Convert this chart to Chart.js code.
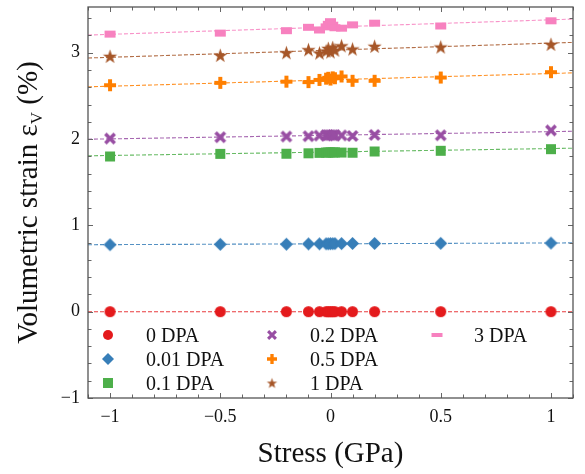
<!DOCTYPE html>
<html>
<head>
<meta charset="utf-8">
<script src="https://cdn.jsdelivr.net/npm/chart.js@4.4.1/dist/chart.umd.min.js"></script>
<style>
  html, body { margin: 0; padding: 0; background: #fff; }
  #wrap { width: 585px; height: 474px; }
</style>
</head>
<body>
<div id="wrap"><canvas id="chart" width="585" height="474"></canvas></div>
<script>
/* ---- Daten ---- */
const STRESS = [-1, -0.5, -0.2, -0.1, -0.05, -0.02, -0.01, 0, 0.01, 0.02, 0.05, 0.1, 0.2, 0.5, 1];

const LABELS = ['0 DPA', '0.01 DPA', '0.1 DPA', '0.2 DPA', '0.5 DPA', '1 DPA', '3 DPA'];
const COLORS = ['#e41a1c', '#377eb8', '#4daf4a', '#984ea3', '#ff7f00', '#a65628', '#f781bf'];

const STRAIN_0    = [0, 0, 0, 0, 0, 0, 0, 0, 0, 0, 0, 0, 0, 0, 0];
const STRAIN_001  = [0.776, 0.780, 0.782, 0.785, 0.786, 0.787, 0.787, 0.788, 0.788, 0.789, 0.789, 0.790, 0.790, 0.792, 0.795];
const STRAIN_01   = [1.798, 1.829, 1.830, 1.835, 1.840, 1.844, 1.845, 1.846, 1.845, 1.846, 1.844, 1.842, 1.856, 1.864, 1.883];
const STRAIN_02   = [2.006, 2.021, 2.029, 2.033, 2.040, 2.044, 2.046, 2.046, 2.045, 2.044, 2.042, 2.036, 2.048, 2.044, 2.100];
const STRAIN_05   = [2.624, 2.651, 2.665, 2.660, 2.685, 2.700, 2.710, 2.690, 2.715, 2.705, 2.725, 2.675, 2.675, 2.713, 2.775];
const STRAIN_1    = [2.958, 2.970, 3.000, 3.035, 2.997, 3.020, 3.050, 3.010, 3.060, 3.030, 3.080, 3.043, 3.075, 3.066, 3.097];
const STRAIN_3    = [3.216, 3.228, 3.256, 3.295, 3.264, 3.300, 3.330, 3.360, 3.320, 3.290, 3.285, 3.323, 3.343, 3.310, 3.370];
const SERIES = [STRAIN_0, STRAIN_001, STRAIN_01, STRAIN_02, STRAIN_05, STRAIN_1, STRAIN_3];

// Fit-Geraden: Endwerte am linken / rechten Rand
const FIT_X     = [-1.1, 1.1];
const FIT_LEFT  = [0, 0.776, 1.806, 1.998, 2.605, 2.939, 3.205];
const FIT_RIGHT = [0, 0.797, 1.894, 2.090, 2.767, 3.120, 3.390];

const X_TICKS = [-1, -0.5, 0, 0.5, 1];
const Y_TICKS = [-1, 0, 1, 2, 3];
const X_RANGE = [-1.1, 1.1];
const Y_RANGE = [-1, 3.53];

/* ---- Marker als kleine Canvas-Bilder ---- */
const SHAPES = ['circle', 'diamond', 'square', 'x', 'plus', 'star', 'rect'];

function marker(shape, color, w, h) {
  h = h || w;
  const c = document.createElement('canvas');
  c.width = Math.ceil(w) + 2;
  c.height = Math.ceil(h) + 2;
  const g = c.getContext('2d');
  g.translate(c.width / 2, c.height / 2);
  g.fillStyle = color;
  g.strokeStyle = color;
  const r = w / 2;
  g.beginPath();
  if (shape === 'circle') {
    g.arc(0, 0, r, 0, Math.PI * 2);
    g.fill();
  } else if (shape === 'diamond') {
    g.moveTo(0, -r); g.lineTo(r, 0); g.lineTo(0, r); g.lineTo(-r, 0); g.closePath();
    g.fill();
  } else if (shape === 'square' || shape === 'rect') {
    g.rect(-w / 2, -h / 2, w, h);
    g.fill();
  } else if (shape === 'x') {
    const a = r * 0.78;
    g.lineWidth = w * 0.3;
    g.moveTo(-a, -a); g.lineTo(a, a);
    g.moveTo(a, -a); g.lineTo(-a, a);
    g.stroke();
  } else if (shape === 'plus') {
    const t = r / 3;
    g.rect(-r, -t, 2 * r, 2 * t);
    g.rect(-t, -r, 2 * t, 2 * r);
    g.fill();
  } else if (shape === 'star') {
    const ri = r * 0.40;
    for (let k = 0; k < 10; k++) {
      const ang = -Math.PI / 2 + k * Math.PI / 5;
      const rr = k % 2 === 0 ? r : ri;
      const px = Math.cos(ang) * rr, py = Math.sin(ang) * rr + r * 0.08;
      if (k === 0) g.moveTo(px, py); else g.lineTo(px, py);
    }
    g.closePath();
    g.fill();
  }
  return c;
}

const PLOT_SIZE   = [[11], [13], [10], [12], [12], [15], [11, 7]];
const LEGEND_SIZE = [[10], [12], [10], [10], [10], [11], [11, 4]];

const plotMarkers   = SHAPES.map((s, i) => marker(s, COLORS[i], PLOT_SIZE[i][0], PLOT_SIZE[i][1]));
const legendMarkers = SHAPES.map((s, i) => marker(s, COLORS[i], LEGEND_SIZE[i][0], LEGEND_SIZE[i][1]));

function alpha(hex, a) {
  const n = parseInt(hex.slice(1), 16);
  return `rgba(${(n >> 16) & 255}, ${(n >> 8) & 255}, ${n & 255}, ${a})`;
}

/* ---- Datensätze ---- */
const datasets = [];
SERIES.forEach((vals, i) => {
  datasets.push({
    label: LABELS[i],
    data: STRESS.map((x, j) => ({ x: x, y: vals[j] })),
    pointStyle: plotMarkers[i],
    pointRadius: 6,
    showLine: false,
    order: 0
  });
  datasets.push({
    label: LABELS[i] + ' fit',
    data: FIT_X.map((x, j) => ({ x: x, y: j === 0 ? FIT_LEFT[i] : FIT_RIGHT[i] })),
    showLine: true,
    borderColor: alpha(COLORS[i], 0.85),
    borderWidth: 1.1,
    borderDash: [4, 2],
    pointRadius: 0,
    order: 1
  });
});

const SERIF = "'Liberation Serif', 'DejaVu Serif', serif";
const minus = v => String(v).replace('-', '\u2212');

/* ---- Rahmen, Ticks nach innen, Legende, Achsentitel ---- */
const decor = {
  id: 'decor',
  afterDraw(chart) {
    const { ctx, chartArea: a, scales: { x, y } } = chart;
    ctx.save();

    // Ticks
    ctx.strokeStyle = '#666';
    ctx.lineWidth = 1;
    ctx.beginPath();
    for (let k = -11; k <= 11; k++) {
      const v = k / 10;
      const px = Math.round(x.getPixelForValue(v)) + 0.5;
      const len = (k % 5 === 0) ? 5 : 3.5;
      ctx.moveTo(px, a.bottom); ctx.lineTo(px, a.bottom - len);
      ctx.moveTo(px, a.top); ctx.lineTo(px, a.top + len);
    }
    for (let k = -5; k <= 17; k++) {
      const v = k / 5;
      if (v > Y_RANGE[1]) break;
      const py = Math.round(y.getPixelForValue(v)) + 0.5;
      const len = (k % 5 === 0) ? 5 : 3.5;
      ctx.moveTo(a.left, py); ctx.lineTo(a.left + len, py);
      ctx.moveTo(a.right, py); ctx.lineTo(a.right - len, py);
    }
    ctx.stroke();

    // Rahmen
    ctx.strokeStyle = '#555';
    ctx.lineWidth = 1.3;
    ctx.strokeRect(a.left, a.top, a.right - a.left, a.bottom - a.top);

    // Legende (spaltenweise)
    const colMarker = [108, 272, 437];
    const colText = [146, 310, 474];
    const rowY = [335, 359, 383];
    ctx.fillStyle = '#111';
    ctx.font = `20px ${SERIF}`;
    ctx.textBaseline = 'alphabetic';
    ctx.textAlign = 'left';
    LABELS.forEach((lab, i) => {
      const col = Math.floor(i / 3), row = i % 3;
      const m = legendMarkers[i];
      ctx.drawImage(m, colMarker[col] - m.width / 2, rowY[row] - m.height / 2);
      ctx.fillText(lab, colText[col], rowY[row] + 7);
    });

    // x-Titel
    ctx.font = `29px ${SERIF}`;
    ctx.textAlign = 'center';
    ctx.fillText('Stress (GPa)', (a.left + a.right) / 2, 462);

    // y-Titel mit Index
    const main = 'Volumetric strain \u03b5', sub = 'V', rest = ' (%)';
    ctx.translate(37, (a.top + a.bottom) / 2);
    ctx.rotate(-Math.PI / 2);
    ctx.textAlign = 'left';
    ctx.font = `29px ${SERIF}`;
    const w1 = ctx.measureText(main).width;
    const w3 = ctx.measureText(rest).width;
    ctx.font = `17px ${SERIF}`;
    const w2 = ctx.measureText(sub).width;
    let sx = -(w1 + w2 + w3) / 2;
    ctx.font = `29px ${SERIF}`;
    ctx.fillText(main, sx, 0);
    sx += w1;
    ctx.font = `17px ${SERIF}`;
    ctx.fillText(sub, sx, 5);
    sx += w2;
    ctx.font = `29px ${SERIF}`;
    ctx.fillText(rest, sx, 0);

    ctx.restore();
  }
};

new Chart(document.getElementById('chart'), {
  type: 'scatter',
  data: { datasets: datasets },
  options: {
    responsive: false,
    animation: false,
    layout: { padding: { top: 4, right: 12, left: 0, bottom: 0 } },
    plugins: { legend: { display: false }, tooltip: { enabled: false } },
    scales: {
      x: {
        type: 'linear',
        min: X_RANGE[0], max: X_RANGE[1],
        afterBuildTicks: s => { s.ticks = X_TICKS.map(v => ({ value: v })); },
        afterFit: s => { s.height = 76; s.paddingLeft = 0; s.paddingRight = 0; },
        grid: { display: false, drawTicks: false },
        border: { display: false },
        ticks: {
          padding: 8,
          color: '#111',
          maxRotation: 0,
          font: { family: SERIF, size: 18 },
          callback: v => minus(v)
        }
      },
      y: {
        type: 'linear',
        min: Y_RANGE[0], max: Y_RANGE[1],
        afterBuildTicks: s => { s.ticks = Y_TICKS.map(v => ({ value: v })); },
        afterFit: s => { s.width = 88; s.paddingTop = 0; s.paddingBottom = 0; },
        grid: { display: false, drawTicks: false },
        border: { display: false },
        ticks: {
          padding: 8,
          color: '#111',
          font: { family: SERIF, size: 18 },
          callback: v => minus(v)
        }
      }
    }
  },
  plugins: [decor]
});
</script>
</body>
</html>
